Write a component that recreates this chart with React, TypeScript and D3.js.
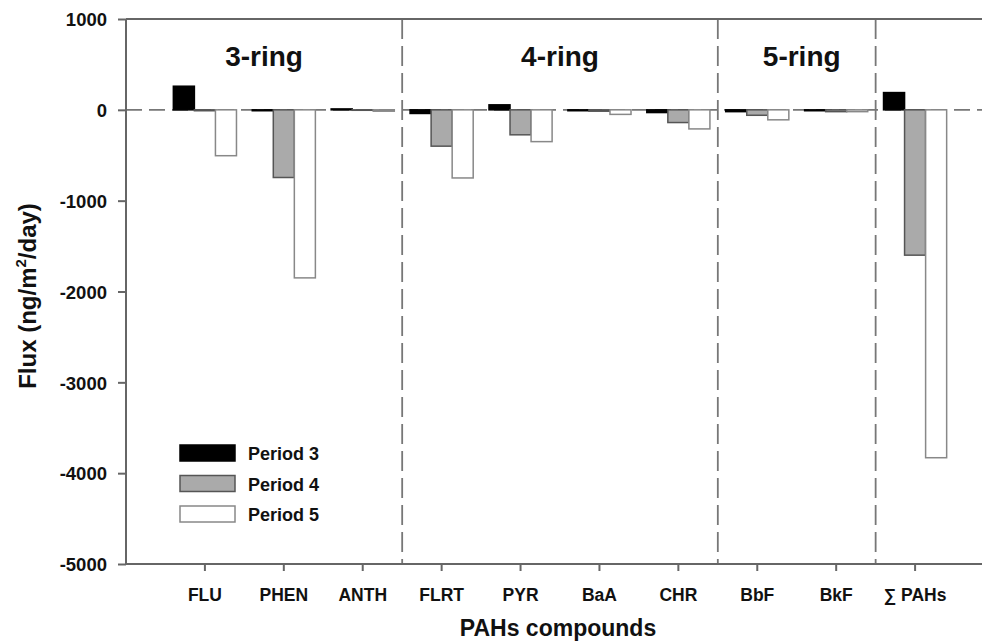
import React, { useEffect, useRef } from 'react'
import * as d3 from 'd3'

const compounds = ['FLU', 'PHEN', 'ANTH', 'FLRT', 'PYR', 'BaA', 'CHR', 'BbF', 'BkF', '∑ PAHs']
const periods = ['Period 3', 'Period 4', 'Period 5']
const period3 = [260, -10, 10, -40, 55, -10, -30, -20, -10, 190]
const period4 = [-10, -745, -5, -400, -275, -15, -140, -60, -20, -1600]
const period5 = [-505, -1850, -15, -750, -350, -50, -210, -110, -20, -3830]
const yTicks = [1000, 0, -1000, -2000, -3000, -4000, -5000]
const ringGroups = [
  { label: '3-ring', from: 'FLU', to: 'ANTH' },
  { label: '4-ring', from: 'FLRT', to: 'CHR' },
  { label: '5-ring', from: 'BbF', to: 'BkF' },
]

const fills = ['#000000', '#aaaaaa', '#ffffff']
const strokes = ['#000000', '#555555', '#888888']
const axisColor = '#666'
const font = '"Liberation Sans", Arial, sans-serif'

export default function App() {
  const ref = useRef<SVGSVGElement>(null)

  useEffect(() => {
    const svg = d3.select(ref.current)
    svg.selectAll('*').remove()

    const left = 126, right = 994, top = 19, bottom = 564

    const x = d3.scaleBand().domain(compounds).range([left, right]).paddingInner(0).paddingOuter(0.5)
    const y = d3.scaleLinear().domain([-5000, 1000]).range([bottom, top])
    const step = x.step()
    const groupW = step * 0.8
    const xs = d3.scaleBand().domain(periods).range([0, groupW])

    const series = [period3, period4, period5]

    // zero line, dashed
    svg.append('line')
      .attr('x1', left).attr('x2', right)
      .attr('y1', y(0)).attr('y2', y(0))
      .attr('stroke', '#777').attr('stroke-width', 1.8)
      .attr('stroke-dasharray', '16,7')

    // group separators
    const seps = ['ANTH', 'CHR', 'BkF']
    svg.selectAll('line.sep')
      .data(seps)
      .enter().append('line')
      .attr('class', 'sep')
      .attr('x1', d => (x(d) as number) + step)
      .attr('x2', d => (x(d) as number) + step)
      .attr('y1', top).attr('y2', bottom)
      .attr('stroke', '#777').attr('stroke-width', 1.8)
      .attr('stroke-dasharray', '20,7')

    // bars
    series.forEach((vals, si) => {
      svg.append('g').selectAll('rect')
        .data(vals)
        .enter().append('rect')
        .attr('x', (d, i) => (x(compounds[i]) as number) + step / 2 - groupW / 2 + (xs(periods[si]) as number))
        .attr('width', xs.bandwidth())
        .attr('y', d => y(Math.max(0, d)))
        .attr('height', d => Math.abs(y(d) - y(0)))
        .attr('fill', fills[si])
        .attr('stroke', strokes[si])
        .attr('stroke-width', 1.5)
    })

    // axes
    const yAxis = d3.axisLeft(y).tickValues(yTicks).tickSize(8).tickPadding(11)
      .tickFormat(d => String(d))
    const gy = svg.append('g').attr('transform', `translate(${left},0)`).call(yAxis)
    gy.select('.domain').remove()
    gy.selectAll('line').attr('stroke', axisColor).attr('stroke-width', 2)
    gy.selectAll('text')
      .attr('font-family', font).attr('font-weight', 'bold').attr('font-size', 18.5)
      .attr('fill', '#111').attr('dy', '0.36em')

    const xAxis = d3.axisBottom(x).tickSize(7).tickPadding(18)
    const gx = svg.append('g').attr('transform', `translate(0,${bottom})`).call(xAxis)
    gx.select('.domain').remove()
    gx.selectAll('line').attr('stroke', axisColor).attr('stroke-width', 2)
    gx.selectAll('text')
      .attr('font-family', font).attr('font-weight', 'bold').attr('font-size', 17.5)
      .attr('fill', '#111')

    // frame lines
    svg.append('line').attr('x1', left).attr('x2', right).attr('y1', top).attr('y2', top)
      .attr('stroke', axisColor).attr('stroke-width', 2)
    svg.append('line').attr('x1', left).attr('x2', right).attr('y1', bottom).attr('y2', bottom)
      .attr('stroke', axisColor).attr('stroke-width', 2)
    svg.append('line').attr('x1', left).attr('x2', left).attr('y1', top).attr('y2', bottom)
      .attr('stroke', axisColor).attr('stroke-width', 2)

    // ring labels
    svg.selectAll('text.ring')
      .data(ringGroups)
      .enter().append('text')
      .attr('class', 'ring')
      .attr('x', d => {
        const a = d.from === 'FLU' ? left : (x(d.from) as number)
        const b = (x(d.to) as number) + step
        return (a + b) / 2 + (d.label === '5-ring' ? 5 : 0)
      })
      .attr('y', 66)
      .attr('text-anchor', 'middle')
      .attr('font-family', font).attr('font-weight', 'bold').attr('font-size', 28)
      .attr('fill', '#111')
      .text(d => d.label)

    // legend
    const lg = svg.append('g').attr('transform', 'translate(180,445)')
    periods.forEach((p, i) => {
      lg.append('rect')
        .attr('x', 0).attr('y', i * 30.5)
        .attr('width', 55).attr('height', 16)
        .attr('fill', fills[i]).attr('stroke', strokes[i]).attr('stroke-width', 1.5)
      lg.append('text')
        .attr('x', 68).attr('y', i * 30.5 + 15)
        .attr('font-family', font).attr('font-weight', 'bold').attr('font-size', 18)
        .attr('fill', '#111')
        .text(p)
    })

    // axis titles
    svg.append('text')
      .attr('x', (left + right) / 2 - 2).attr('y', 636)
      .attr('text-anchor', 'middle')
      .attr('font-family', font).attr('font-weight', 'bold').attr('font-size', 23)
      .attr('fill', '#111')
      .text('PAHs compounds')

    const yt = svg.append('text')
      .attr('transform', `translate(36,296) rotate(-90)`)
      .attr('text-anchor', 'middle')
      .attr('font-family', font).attr('font-weight', 'bold').attr('font-size', 24)
      .attr('fill', '#111')
    yt.append('tspan').text('Flux (ng/m')
    yt.append('tspan').attr('font-size', 15).attr('dy', -10).text('2')
    yt.append('tspan').attr('dy', 10).text('/day)')
  }, [])

  return (
    <svg ref={ref} width={982} height={641}
      style={{ position: 'absolute', left: 0, top: 0, background: '#fff' }} />
  )
}
